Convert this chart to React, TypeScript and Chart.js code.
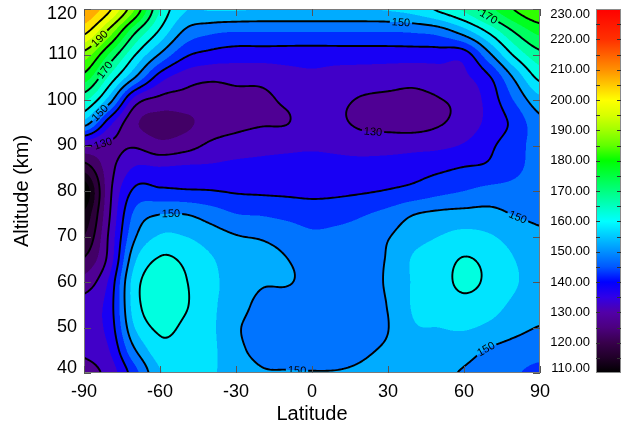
import { useEffect, useRef } from "react";
import { Chart, registerables } from "chart.js";

Chart.register(...registerables);

const FONT = "'Liberation Sans', Arial, Helvetica, sans-serif";

const latitudes = [-90, -80, -70, -60, -50, -40, -30, -20, -10, 0, 10, 20, 30, 40, 50, 60, 70, 80, 90];
const altitudes = [40, 45, 50, 55, 60, 65, 70, 75, 80, 85, 90, 95, 100, 105, 110, 115, 120];

// Temperature (K), one row per altitude (40 km first), one column per latitude
const temperatureRows = [
  [128, 132, 143, 154.5, 156, 155.5, 153, 150.5, 150.3, 150.2, 150.2, 150.6, 151.5, 151.5, 151, 149.5, 147, 145.5, 143.5],
  [131, 135, 149.5, 158, 157.5, 156, 151.5, 148.3, 147.3, 147, 148, 149.4, 150.6, 152.5, 152.5, 152, 149.5, 148, 147],
  [133, 137, 155, 161, 159, 156, 150.8, 147.8, 147, 146.8, 147.2, 148.5, 149.9, 154.5, 155, 155.5, 154, 151.5, 149.8],
  [132, 137.5, 157.5, 163, 160.5, 156, 152.5, 148.5, 147.5, 147, 147.3, 148.5, 150.2, 155.5, 157, 158.5, 157, 154, 152],
  [127, 136, 157.5, 162.5, 160.3, 156, 153.5, 150.6, 150.4, 148.5, 147.8, 148.5, 150.6, 155.5, 158, 161, 159, 155.5, 153],
  [120.5, 132, 154, 160.5, 159, 155.5, 152.5, 151.5, 150.1, 148, 147.8, 148.5, 150.4, 155.5, 157.5, 160.3, 158.5, 155, 152.5],
  [115, 131, 149.3, 155.5, 155, 152.5, 150.3, 149.5, 148, 146, 146.5, 147.5, 149.7, 153, 155, 156.5, 155.5, 153, 151],
  [111, 129.5, 146, 149.8, 149.8, 147.5, 145, 144.5, 143.5, 142.5, 143, 144.5, 146.5, 149.7, 151, 151.5, 151.5, 149.7, 148.8],
  [107, 128.5, 141, 141, 140.5, 140.2, 139.5, 139.2, 139, 138.8, 139, 139.5, 140.3, 141.5, 143.5, 145, 146.5, 146.5, 147],
  [117, 128, 135.5, 135.5, 136, 136, 136.5, 136.5, 136.5, 136.5, 136.5, 137, 137.5, 138, 139, 140.3, 141, 144, 146.5],
  [130.5, 129, 129.5, 126.5, 128, 131, 132.5, 133.5, 134, 134.5, 134, 133, 133, 133.5, 134, 135.5, 139, 143, 147],
  [153, 137, 126, 123, 124, 127, 128.5, 129.5, 129.8, 132.5, 131, 129, 128.5, 128, 129.5, 132, 136.5, 141.5, 148.5],
  [166, 152.5, 133, 128.5, 128, 127.5, 128.5, 129, 130.8, 132.5, 131, 129.6, 129.2, 129, 129.8, 131.5, 137, 145.5, 153.5],
  [178, 164, 150.3, 137.5, 132.5, 131, 131.5, 131.5, 133, 134, 133, 132.5, 132, 131.5, 132.5, 134, 139.5, 151, 161.5],
  [188, 174.5, 160.5, 149.5, 141, 138.5, 137.5, 137.5, 137.5, 137.5, 137.5, 137.5, 137.5, 137.5, 137.5, 137.5, 149, 161, 168.5],
  [201.5, 188, 171, 159, 149, 146, 145, 145, 145, 145, 145, 145, 145, 145.5, 147, 152.5, 161, 170.3, 176.5],
  [210, 201, 185, 165, 155.5, 155.5, 155.5, 155, 155, 155, 155, 155, 155.5, 157, 161, 166, 173.5, 180.3, 185],
];

const latTicks = [-90, -60, -30, 0, 30, 60, 90];
const altTicks = [40, 50, 60, 70, 80, 90, 100, 110, 120];
const colorbarTicks = [110, 120, 130, 140, 150, 160, 170, 180, 190, 200, 210, 220, 230];
const contourLevels = [110, 120, 130, 140, 150, 160, 170, 180, 190, 200, 210, 220];
const bandStep = 5;

// Colour scale from 110 K (black) to 230 K (red)
const stopValues = [110, 115, 120, 125, 130, 135, 140, 145, 150, 155, 160, 165, 170, 175, 180, 185, 190, 195, 200, 205, 210, 215, 220, 230];
const stopColors = [
  "#000000", "#200028", "#38004c", "#4c0080", "#5200a8", "#3000e8", "#0000ff", "#0058ff",
  "#0090ff", "#00c8ff", "#00ffff", "#00ffc0", "#00ff80", "#00ff40", "#00ff00", "#60ff00",
  "#a0ff00", "#d8ff00", "#ffff00", "#ffc800", "#ff9000", "#ff6000", "#ff3000", "#ff0000",
];

// Inline contour labels: approximate position and level
const labelLats = [-83.7, -81, -83.7, -82.5, 35.4, 69, 24.2, -56, -6, 80.7, 68.3];
const labelAlts = [113.2, 106.2, 97.1, 89.7, 118, 118, 93.8, 75, 40.5, 73.6, 45.5];
const labelLevels = [190, 170, 150, 130, 150, 170, 130, 150, 150, 150, 150];

const clamp = (v: number, lo: number, hi: number) => (v < lo ? lo : v > hi ? hi : v);

function hexRgb(h: string): [number, number, number] {
  return [parseInt(h.slice(1, 3), 16), parseInt(h.slice(3, 5), 16), parseInt(h.slice(5, 7), 16)];
}
const stopRgb = stopColors.map(hexRgb);

function colorAt(v: number): [number, number, number] {
  if (v <= stopValues[0]) return stopRgb[0];
  for (let i = 1; i < stopValues.length; i++) {
    if (v <= stopValues[i]) {
      const t = (v - stopValues[i - 1]) / (stopValues[i] - stopValues[i - 1]);
      const a = stopRgb[i - 1];
      const b = stopRgb[i];
      return [a[0] + (b[0] - a[0]) * t, a[1] + (b[1] - a[1]) * t, a[2] + (b[2] - a[2]) * t];
    }
  }
  return stopRgb[stopRgb.length - 1];
}

const bandCache = new Map<number, [number, number, number]>();
function bandColor(v: number) {
  const k = Math.floor(v / bandStep);
  let c = bandCache.get(k);
  if (!c) {
    c = colorAt(k * bandStep + bandStep / 2);
    bandCache.set(k, c);
  }
  return c;
}

function cubic(p0: number, p1: number, p2: number, p3: number, t: number) {
  return p1 + 0.5 * t * (p2 - p0 + t * (2 * p0 - 5 * p1 + 4 * p2 - p3 + t * (3 * (p1 - p2) + p3 - p0)));
}

const NX = latitudes.length;
const NY = altitudes.length;
const cell = (i: number, j: number) => temperatureRows[clamp(j, 0, NY - 1)][clamp(i, 0, NX - 1)];

// Bicubic interpolation, held within the range of the enclosing cell
function fieldAt(lat: number, alt: number) {
  const fx = (lat - latitudes[0]) / (latitudes[1] - latitudes[0]);
  const fy = (alt - altitudes[0]) / (altitudes[1] - altitudes[0]);
  const ix = clamp(Math.floor(fx), 0, NX - 2);
  const iy = clamp(Math.floor(fy), 0, NY - 2);
  const tx = clamp(fx - ix, 0, 1);
  const ty = clamp(fy - iy, 0, 1);
  const r0 = cubic(cell(ix - 1, iy - 1), cell(ix, iy - 1), cell(ix + 1, iy - 1), cell(ix + 2, iy - 1), tx);
  const r1 = cubic(cell(ix - 1, iy), cell(ix, iy), cell(ix + 1, iy), cell(ix + 2, iy), tx);
  const r2 = cubic(cell(ix - 1, iy + 1), cell(ix, iy + 1), cell(ix + 1, iy + 1), cell(ix + 2, iy + 1), tx);
  const r3 = cubic(cell(ix - 1, iy + 2), cell(ix, iy + 2), cell(ix + 1, iy + 2), cell(ix + 2, iy + 2), tx);
  const v = cubic(r0, r1, r2, r3, ty);
  const a = cell(ix, iy), b = cell(ix + 1, iy), c = cell(ix, iy + 1), d = cell(ix + 1, iy + 1);
  const lo = Math.min(a, b, c, d);
  const hi = Math.max(a, b, c, d);
  return clamp(v, lo, hi);
}

// Marching squares over a pixel grid; appends x1,y1,x2,y2 for each segment
function traceLevel(vals: Float32Array, nx: number, ny: number, gx: number[], gy: number[], level: number, out: number[]) {
  const px = [0, 0, 0, 0];
  const py = [0, 0, 0, 0];
  const has = [false, false, false, false];
  const seg = (a: number, b: number) => out.push(px[a], py[a], px[b], py[b]);
  for (let j = 0; j < ny - 1; j++) {
    for (let i = 0; i < nx - 1; i++) {
      const v00 = vals[j * nx + i];
      const v10 = vals[j * nx + i + 1];
      const v01 = vals[(j + 1) * nx + i];
      const v11 = vals[(j + 1) * nx + i + 1];
      const b00 = v00 >= level, b10 = v10 >= level, b01 = v01 >= level, b11 = v11 >= level;
      if (b00 === b10 && b00 === b01 && b00 === b11) continue;
      const x0 = gx[i], x1 = gx[i + 1], y0 = gy[j], y1 = gy[j + 1];
      has[0] = b00 !== b10;
      has[1] = b10 !== b11;
      has[2] = b11 !== b01;
      has[3] = b01 !== b00;
      if (has[0]) { const t = (level - v00) / (v10 - v00); px[0] = x0 + (x1 - x0) * t; py[0] = y0; }
      if (has[1]) { const t = (level - v10) / (v11 - v10); px[1] = x1; py[1] = y0 + (y1 - y0) * t; }
      if (has[2]) { const t = (level - v01) / (v11 - v01); px[2] = x0 + (x1 - x0) * t; py[2] = y1; }
      if (has[3]) { const t = (level - v00) / (v01 - v00); px[3] = x0; py[3] = y0 + (y1 - y0) * t; }
      const idx: number[] = [];
      for (let k = 0; k < 4; k++) if (has[k]) idx.push(k);
      if (idx.length === 2) seg(idx[0], idx[1]);
      else if (idx.length === 4) {
        const centreHigh = (v00 + v10 + v01 + v11) / 4 >= level;
        if (centreHigh === b00) { seg(0, 1); seg(2, 3); }
        else { seg(3, 0); seg(1, 2); }
      }
    }
  }
}

function clampedLabelY(y: number, top: number, bottom: number) {
  return clamp(y, top + 5, bottom - 5);
}

const LABEL_FONT = `11px ${FONT}`;

const contourPlugin = {
  id: "contourField",
  beforeDatasetsDraw(chart: any) {
    const { ctx, chartArea: a, scales } = chart;
    const xs = scales.x;
    const ys = scales.y;
    const cb = scales.cbar;
    const W = Math.round(a.right - a.left);
    const H = Math.round(a.bottom - a.top);

    // Filled bands, 2x2 supersampled
    const off = document.createElement("canvas");
    off.width = W;
    off.height = H;
    const octx = off.getContext("2d")!;
    const img = octx.createImageData(W, H);
    const lats: number[] = [];
    const alts: number[] = [];
    for (let i = 0; i < W; i++) {
      lats.push(xs.getValueForPixel(a.left + i + 0.25), xs.getValueForPixel(a.left + i + 0.75));
    }
    for (let j = 0; j < H; j++) {
      alts.push(ys.getValueForPixel(a.top + j + 0.25), ys.getValueForPixel(a.top + j + 0.75));
    }
    for (let j = 0; j < H; j++) {
      for (let i = 0; i < W; i++) {
        let r = 0, g = 0, b = 0;
        for (let sj = 0; sj < 2; sj++) {
          for (let si = 0; si < 2; si++) {
            const c = bandColor(fieldAt(lats[2 * i + si], alts[2 * j + sj]));
            r += c[0]; g += c[1]; b += c[2];
          }
        }
        const p = (j * W + i) * 4;
        img.data[p] = r / 4;
        img.data[p + 1] = g / 4;
        img.data[p + 2] = b / 4;
        img.data[p + 3] = 255;
      }
    }
    octx.putImageData(img, 0, 0);
    ctx.drawImage(off, a.left, a.top);

    // Contour lines
    const step = 2;
    const gx: number[] = [];
    const gy: number[] = [];
    for (let x = a.left; ; x += step) { gx.push(Math.min(x, a.right)); if (x >= a.right) break; }
    for (let y = a.top; ; y += step) { gy.push(Math.min(y, a.bottom)); if (y >= a.bottom) break; }
    const nx = gx.length, ny = gy.length;
    const vals = new Float32Array(nx * ny);
    const gLat = gx.map((x) => xs.getValueForPixel(x));
    for (let j = 0; j < ny; j++) {
      const alt = ys.getValueForPixel(gy[j]);
      for (let i = 0; i < nx; i++) vals[j * nx + i] = fieldAt(gLat[i], alt);
    }
    const segsByLevel = new Map<number, number[]>();
    for (const lv of contourLevels) {
      const out: number[] = [];
      traceLevel(vals, nx, ny, gx, gy, lv, out);
      segsByLevel.set(lv, out);
    }

    // Place labels on the nearest point of their contour
    ctx.save();
    ctx.font = LABEL_FONT;
    const labels: { x: number; y: number; ang: number; text: string; hw: number }[] = [];
    for (let k = 0; k < labelLevels.length; k++) {
      const segs = segsByLevel.get(labelLevels[k]) || [];
      const tx = xs.getPixelForValue(labelLats[k]);
      const ty = ys.getPixelForValue(labelAlts[k]);
      let best = -1;
      let bestD = 30 * 30;
      for (let s = 0; s < segs.length; s += 4) {
        const mx = (segs[s] + segs[s + 2]) / 2;
        const my = (segs[s + 1] + segs[s + 3]) / 2;
        const d = (mx - tx) * (mx - tx) + (my - ty) * (my - ty);
        if (d < bestD) { bestD = d; best = s; }
      }
      if (best < 0) continue;
      // average direction over neighbouring segments for a steadier angle
      let dx = 0, dy = 0;
      const cx = (segs[best] + segs[best + 2]) / 2;
      const cy = (segs[best + 1] + segs[best + 3]) / 2;
      for (let s = 0; s < segs.length; s += 4) {
        const mx = (segs[s] + segs[s + 2]) / 2;
        const my = (segs[s + 1] + segs[s + 3]) / 2;
        if ((mx - cx) * (mx - cx) + (my - cy) * (my - cy) < 100) {
          let ex = segs[s + 2] - segs[s];
          let ey = segs[s + 3] - segs[s + 1];
          if (ex * dx + ey * dy < 0 || (dx === 0 && dy === 0 && ex < 0)) { ex = -ex; ey = -ey; }
          dx += ex; dy += ey;
        }
      }
      let ang = Math.atan2(dy, dx);
      if (ang > Math.PI / 2) ang -= Math.PI;
      if (ang < -Math.PI / 2) ang += Math.PI;
      const text = String(labelLevels[k]);
      const hw = ctx.measureText(text).width / 2 + 2;
      labels.push({ x: cx, y: cy, ang, text, hw });
    }
    ctx.restore();

    ctx.save();
    ctx.beginPath();
    ctx.rect(a.left, a.top, W, H);
    for (const l of labels) {
      const c = Math.cos(l.ang), s = Math.sin(l.ang);
      const hh = 6;
      const pts = [
        [-l.hw, -hh], [l.hw, -hh], [l.hw, hh], [-l.hw, hh],
      ].map(([u, v]) => [l.x + u * c - v * s, l.y + u * s + v * c]);
      ctx.moveTo(pts[0][0], pts[0][1]);
      for (let q = 1; q < 4; q++) ctx.lineTo(pts[q][0], pts[q][1]);
      ctx.closePath();
    }
    ctx.clip("evenodd");
    ctx.beginPath();
    for (const lv of contourLevels) {
      const segs = segsByLevel.get(lv)!;
      for (let s = 0; s < segs.length; s += 4) {
        ctx.moveTo(segs[s], segs[s + 1]);
        ctx.lineTo(segs[s + 2], segs[s + 3]);
      }
    }
    ctx.strokeStyle = "#000";
    ctx.lineWidth = 1.9;
    ctx.lineCap = "round";
    ctx.lineJoin = "round";
    ctx.stroke();
    ctx.restore();

    ctx.save();
    ctx.beginPath();
    ctx.rect(a.left, a.top, W, H);
    ctx.clip();
    ctx.fillStyle = "#000";
    ctx.font = LABEL_FONT;
    ctx.textAlign = "center";
    ctx.textBaseline = "middle";
    for (const l of labels) {
      ctx.save();
      ctx.translate(l.x, l.y);
      ctx.rotate(l.ang);
      ctx.fillText(l.text, 0, 0.5);
      ctx.restore();
    }
    ctx.restore();

    // Frame and inward tick marks
    ctx.save();
    ctx.strokeStyle = "#7a7a7a";
    ctx.lineWidth = 1;
    ctx.strokeRect(a.left + 0.5, a.top + 0.5, W - 1, H - 1);
    ctx.strokeStyle = "#555";
    ctx.beginPath();
    for (const v of latTicks) {
      const x = Math.round(xs.getPixelForValue(v)) + 0.5;
      ctx.moveTo(x, a.bottom); ctx.lineTo(x, a.bottom - 7);
      ctx.moveTo(x, a.top); ctx.lineTo(x, a.top + 7);
    }
    for (const v of altTicks) {
      const y = Math.round(ys.getPixelForValue(v)) + 0.5;
      ctx.moveTo(a.left, y); ctx.lineTo(a.left + 7, y);
      ctx.moveTo(a.right, y); ctx.lineTo(a.right - 7, y);
    }
    ctx.stroke();

    // Altitude tick labels
    ctx.fillStyle = "#000";
    ctx.font = `18px ${FONT}`;
    ctx.textAlign = "right";
    ctx.textBaseline = "middle";
    for (const v of altTicks) {
      const y = clampedLabelY(ys.getPixelForValue(v), a.top, a.bottom);
      ctx.fillText(String(v), a.left - 7, y);
    }

    // Colour bar
    const bx0 = cb.left + 56;
    const bx1 = cb.left + 81;
    const yTop = cb.getPixelForValue(colorbarTicks[colorbarTicks.length - 1]);
    const yBot = cb.getPixelForValue(colorbarTicks[0]);
    const grad = ctx.createLinearGradient(0, yBot, 0, yTop);
    const span = stopValues[stopValues.length - 1] - stopValues[0];
    stopValues.forEach((v, i) => grad.addColorStop((v - stopValues[0]) / span, stopColors[i]));
    ctx.fillStyle = grad;
    ctx.fillRect(bx0, yTop, bx1 - bx0, yBot - yTop);
    ctx.strokeStyle = "#8a8a8a";
    ctx.strokeRect(bx0 + 0.5, yTop + 0.5, bx1 - bx0 - 1, yBot - yTop - 1);
    ctx.strokeStyle = "#333";
    ctx.beginPath();
    for (let v = colorbarTicks[0] + bandStep; v < colorbarTicks[colorbarTicks.length - 1]; v += bandStep) {
      const y = Math.round(cb.getPixelForValue(v)) + 0.5;
      ctx.moveTo(bx0, y); ctx.lineTo(bx0 + 4, y);
      ctx.moveTo(bx1, y); ctx.lineTo(bx1 - 4, y);
    }
    ctx.stroke();
    ctx.fillStyle = "#000";
    ctx.font = `13px ${FONT}`;
    ctx.textAlign = "right";
    ctx.textBaseline = "middle";
    for (const v of colorbarTicks) {
      const y = clampedLabelY(cb.getPixelForValue(v), yTop, yBot);
      ctx.fillText(v.toFixed(2), cb.left + 50, y);
    }
    ctx.restore();
  },
};

export default function App() {
  const ref = useRef<HTMLCanvasElement>(null);

  useEffect(() => {
    if (!ref.current) return;
    const gridPoints: { x: number; y: number }[] = [];
    altitudes.forEach((alt) => latitudes.forEach((lat) => gridPoints.push({ x: lat, y: alt })));

    const chart = new Chart(ref.current, {
      type: "scatter",
      data: {
        datasets: [
          { data: gridPoints, pointRadius: 0, pointHoverRadius: 0, xAxisID: "x", yAxisID: "y" },
        ],
      },
      options: {
        responsive: false,
        animation: false,
        events: [],
        layout: { padding: { top: 9, left: 0, right: 0, bottom: 0 } },
        plugins: { legend: { display: false }, tooltip: { enabled: false } },
        scales: {
          x: {
            type: "linear",
            position: "bottom",
            min: latTicks[0],
            max: latTicks[latTicks.length - 1],
            ticks: {
              stepSize: 30,
              autoSkip: false,
              maxRotation: 0,
              padding: 8,
              color: "#000",
              font: { size: 18, family: FONT },
              callback: (v: any) => String(v),
            },
            grid: { display: false, drawTicks: false },
            border: { display: false },
            title: {
              display: true,
              text: "Latitude",
              color: "#000",
              font: { size: 20, family: FONT },
              padding: { top: 0, bottom: 2 },
            },
            afterFit: (s: any) => { s.height = 55; },
          },
          y: {
            type: "linear",
            position: "left",
            min: altTicks[0],
            max: altTicks[altTicks.length - 1],
            ticks: { display: false },
            grid: { display: false, drawTicks: false },
            border: { display: false },
            title: {
              display: true,
              text: "Altitude (km)",
              color: "#000",
              font: { size: 20, family: FONT },
              padding: { top: 10.5, bottom: 0 },
            },
            afterFit: (s: any) => { s.width = 84; },
          },
          cbar: {
            type: "linear",
            position: "right",
            min: colorbarTicks[0],
            max: colorbarTicks[colorbarTicks.length - 1],
            ticks: { display: false },
            grid: { display: false, drawTicks: false },
            border: { display: false },
            afterFit: (s: any) => { s.width = 89; },
          },
        },
      } as any,
      plugins: [contourPlugin],
    });
    return () => chart.destroy();
  }, []);

  return (
    <div style={{ position: "fixed", left: 0, top: 0, width: 629, height: 428, background: "#fff" }}>
      <canvas ref={ref} width={629} height={428} style={{ display: "block", width: 629, height: 428 }} />
    </div>
  );
}
